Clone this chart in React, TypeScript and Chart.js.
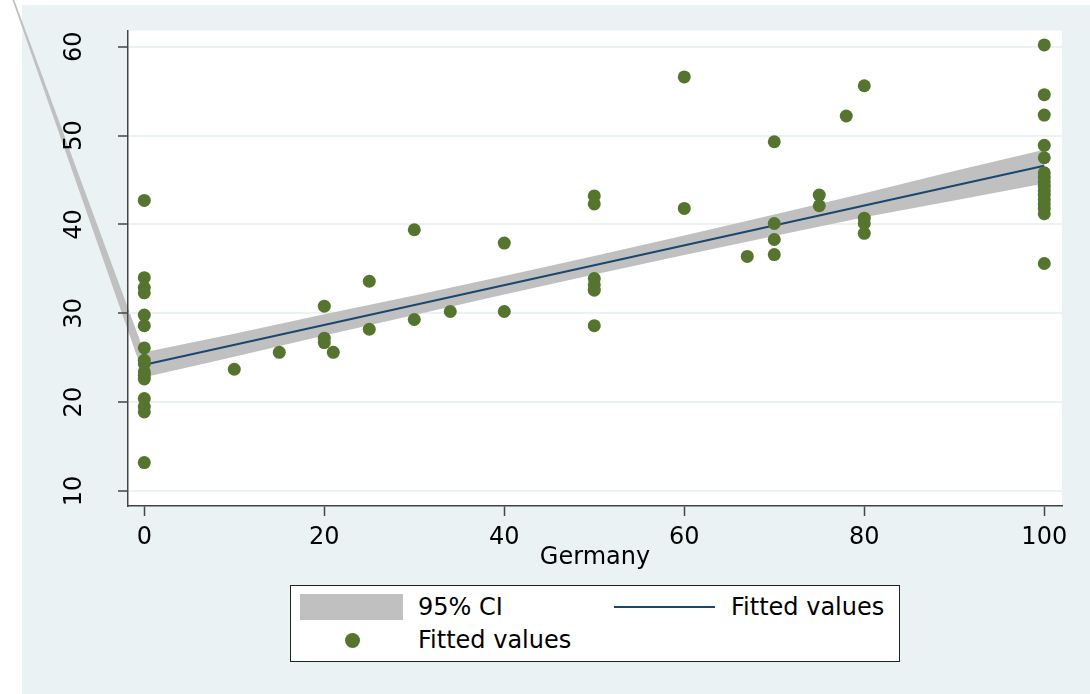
import React, { useEffect, useRef } from "react";
import { Chart, registerables } from "chart.js";

Chart.register(...registerables);

const FONT = '"DejaVu Sans", "Liberation Sans", Arial, sans-serif';

// Axis ticks and title
const xTickValues = [0, 20, 40, 60, 80, 100];
const yTickValues = [10, 20, 30, 40, 50, 60];
const xAxisTitle = "Germany";

// Observed points (x = Germany, y = value)
const germanyX = [
  0, 0, 0, 0, 0, 0, 0, 0, 0, 0, 0, 0, 0, 0, 0, 0,
  10, 15, 20, 20, 20, 21, 25, 25, 30, 30, 34, 40, 40,
  50, 50, 50, 50, 50, 50, 60, 60, 67, 70, 70, 70, 70,
  75, 75, 78, 80, 80, 80, 80,
  100, 100, 100, 100, 100, 100, 100, 100, 100, 100, 100, 100, 100, 100, 100, 100,
];
const observedY = [
  42.7, 34.0, 32.9, 32.3, 29.8, 28.6, 26.1, 24.7, 24.3, 23.4, 23.0, 22.6, 20.4, 19.5, 18.9, 13.2,
  23.7, 25.6, 30.8, 27.2, 26.7, 25.6, 33.6, 28.2, 39.4, 29.3, 30.2, 37.9, 30.2,
  43.2, 42.3, 33.9, 33.2, 32.6, 28.6, 56.6, 41.8, 36.4, 49.3, 40.1, 38.3, 36.6,
  43.3, 42.1, 52.2, 55.6, 40.7, 40.1, 39.0,
  60.2, 54.6, 52.3, 48.9, 47.5, 45.8, 45.3, 44.8, 44.3, 43.8, 43.3, 42.8, 42.3, 41.8, 41.2, 35.6,
];

// Fitted line
const fitX = [0, 100];
const fitY = [24.2, 46.6];

// 95% CI band
const ciX = [0, 10, 20, 30, 40, 50, 60, 70, 80, 90, 100];
const ciUpper = [25.6, 27.7, 29.9, 32.0, 34.2, 36.45, 38.75, 41.1, 43.5, 46.0, 48.4];
const ciLower = [22.8, 25.1, 27.5, 29.8, 32.1, 34.35, 36.55, 38.7, 40.8, 42.7, 44.6];

// Stray CI polygon vertex of the original graph (lies beyond the plot, top-left)
const strayVertexX = [-18];
const strayVertexY = [75];

// Legend labels
const ciLabel = "95% CI";
const lineLabel = "Fitted values";
const pointLabel = "Fitted values";

const COLOR_POINTS = "#55752F";
const COLOR_LINE = "#1A476F";
const COLOR_CI = "#C0C0C0";
const COLOR_BG = "#EAF2F3";
const COLOR_AXIS = "#444444";

export default function App() {
  const canvasRef = useRef<HTMLCanvasElement>(null);

  useEffect(() => {
    const canvas = canvasRef.current;
    if (!canvas) return;

    const plotBackground = {
      id: "plotBackground",
      beforeDraw(chart: any) {
        const { ctx, chartArea: a } = chart;
        ctx.save();
        ctx.fillStyle = "#FFFFFF";
        ctx.fillRect(a.left, a.top, a.right - a.left, a.bottom - a.top);
        ctx.restore();
      },
    };

    // The stray part of the CI polygon, which the original draws outside the plot region.
    const strayBand = {
      id: "strayBand",
      beforeDraw(chart: any) {
        const { ctx } = chart;
        const xs = chart.scales.x;
        const ys = chart.scales.y;
        const px = [strayVertexX[0], ciX[0], ciX[0]];
        const py = [strayVertexY[0], ciUpper[0], ciLower[0]];
        ctx.save();
        ctx.fillStyle = COLOR_CI;
        ctx.beginPath();
        px.forEach((x, i) => {
          const X = xs.getPixelForValue(x);
          const Y = ys.getPixelForValue(py[i]);
          if (i === 0) ctx.moveTo(X, Y);
          else ctx.lineTo(X, Y);
        });
        ctx.closePath();
        ctx.fill();
        ctx.restore();
      },
    };

    const chart = new Chart(canvas, {
      type: "scatter",
      data: {
        datasets: [
          {
            type: "line",
            label: ciLabel,
            data: ciX.map((x, i) => ({ x, y: ciUpper[i] })),
            borderWidth: 0,
            borderColor: COLOR_CI,
            backgroundColor: COLOR_CI,
            pointRadius: 0,
            fill: "+1",
            order: 3,
          },
          {
            type: "line",
            label: ciLabel + " lower",
            data: ciX.map((x, i) => ({ x, y: ciLower[i] })),
            borderWidth: 0,
            borderColor: COLOR_CI,
            backgroundColor: COLOR_CI,
            pointRadius: 0,
            fill: false,
            order: 3,
          },
          {
            type: "line",
            label: lineLabel,
            data: fitX.map((x, i) => ({ x, y: fitY[i] })),
            borderWidth: 2,
            borderColor: COLOR_LINE,
            pointRadius: 0,
            fill: false,
            order: 2,
          },
          {
            type: "scatter",
            label: pointLabel,
            data: germanyX.map((x, i) => ({ x, y: observedY[i] })),
            backgroundColor: COLOR_POINTS,
            borderWidth: 0,
            pointRadius: 6.5,
            order: 1,
          },
        ],
      },
      options: {
        animation: false,
        responsive: false,
        events: [],
        layout: { padding: { left: 0, top: 30.5, right: 28, bottom: 0 } },
        plugins: {
          legend: { display: false },
          tooltip: { enabled: false },
        },
        scales: {
          x: {
            type: "linear",
            min: -1.81,
            max: 101.97,
            afterBuildTicks: (s: any) => {
              s.ticks = xTickValues.map((v) => ({ value: v }));
            },
            afterFit: (s: any) => {
              s.height = 188;
              s.paddingLeft = 0;
              s.paddingRight = 0;
            },
            grid: {
              drawOnChartArea: false,
              drawTicks: true,
              tickLength: 10,
              tickColor: COLOR_AXIS,
              tickWidth: 1.5,
            },
            border: { display: true, color: COLOR_AXIS, width: 1.5 },
            ticks: {
              font: { family: FONT, size: 24 },
              color: "#000",
              padding: 7,
              autoSkip: false,
              minRotation: 0,
              maxRotation: 0,
            },
            title: {
              display: true,
              text: xAxisTitle,
              font: { family: FONT, size: 24 },
              color: "#000",
              padding: { top: 0, bottom: 122 },
            },
          },
          y: {
            type: "linear",
            min: 8.31,
            max: 61.82,
            afterBuildTicks: (s: any) => {
              s.ticks = yTickValues.map((v) => ({ value: v }));
            },
            afterFit: (s: any) => {
              s.width = 128;
              s.paddingTop = 0;
              s.paddingBottom = 0;
            },
            grid: {
              color: COLOR_BG,
              lineWidth: 2,
              drawTicks: true,
              tickLength: 10,
              tickColor: COLOR_AXIS,
              tickWidth: 1.5,
            },
            border: { display: true, color: COLOR_AXIS, width: 1.5 },
            ticks: {
              font: { family: FONT, size: 24 },
              color: "#000",
              padding: 28,
              autoSkip: false,
              minRotation: 90,
              maxRotation: 90,
              crossAlign: "center",
            },
          },
        },
      } as any,
      plugins: [plotBackground, strayBand],
    });

    return () => chart.destroy();
  }, []);

  const textStyle = (left: number, cy: number): React.CSSProperties => ({
    position: "absolute",
    left,
    top: cy - 14,
    height: 28,
    lineHeight: "28px",
    fontFamily: FONT,
    fontSize: 24,
    color: "#000",
    whiteSpace: "nowrap",
  });

  return (
    <div
      style={{
        position: "fixed",
        left: 0,
        top: 0,
        width: 1090,
        height: 694,
        background: "#FFFFFF",
        overflow: "hidden",
      }}
    >
      <div
        style={{
          position: "absolute",
          left: 22,
          top: 5,
          width: 1068,
          height: 689,
          background: COLOR_BG,
        }}
      />
      <canvas
        ref={canvasRef}
        width={1090}
        height={694}
        style={{ position: "absolute", left: 0, top: 0, width: 1090, height: 694 }}
      />
      <div
        style={{
          position: "absolute",
          left: 290,
          top: 585,
          width: 610,
          height: 77,
          boxSizing: "border-box",
          border: "1px solid #222",
          background: "#FFFFFF",
        }}
      >
        <div
          style={{
            position: "absolute",
            left: 9,
            top: 8,
            width: 103,
            height: 26,
            background: COLOR_CI,
          }}
        />
        <div style={textStyle(127, 21)}>{ciLabel}</div>
        <div
          style={{
            position: "absolute",
            left: 323,
            top: 20,
            width: 101,
            height: 2,
            background: COLOR_LINE,
          }}
        />
        <div style={textStyle(440, 21)}>{lineLabel}</div>
        <div
          style={{
            position: "absolute",
            left: 61 - 7.5,
            top: 54 - 7.5,
            width: 15,
            height: 15,
            borderRadius: "50%",
            background: COLOR_POINTS,
          }}
        />
        <div style={textStyle(127, 54)}>{pointLabel}</div>
      </div>
    </div>
  );
}
